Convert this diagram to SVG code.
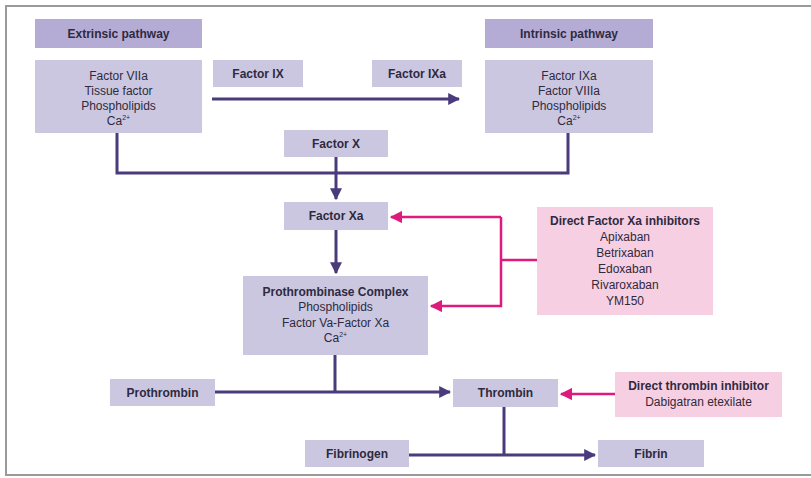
<svg xmlns="http://www.w3.org/2000/svg" width="811" height="478" viewBox="0 0 811 478">
<defs>
<style>
.hdr{fill:#b5acd5}
.box{fill:#cbc7e0}
.pbox{fill:#f7cfe2}
text{font-family:"Liberation Sans",Arial,sans-serif;font-size:12px;fill:#2e2a40;text-anchor:middle}
.b{font-weight:bold}
.sup{font-size:7px}
.ln{fill:none;stroke:#4a3b7c;stroke-width:3}
.pk{fill:none;stroke:#de1a7c;stroke-width:2.5}
</style>
<marker id="ah" viewBox="0 0 10 10" refX="9" refY="5" markerWidth="4" markerHeight="4" orient="auto" markerUnits="strokeWidth"><path d="M0,0 L10,5 L0,10 Z" fill="#4a3b7c"/></marker>
<marker id="ap" viewBox="0 0 10 10" refX="9" refY="5" markerWidth="5" markerHeight="5" orient="auto" markerUnits="strokeWidth"><path d="M0,0 L10,5 L0,10 Z" fill="#de1a7c"/></marker>
</defs>
<rect x="0" y="0" width="811" height="478" fill="#ffffff"/>
<rect x="6" y="6" width="812" height="469" fill="none" stroke="#9a9a9a" stroke-width="2"/>

<g id="connectors">
<path class="ln" d="M212,99 H459" marker-end="url(#ah)"/>
<path class="ln" d="M117,133 V173 H568 V133"/>
<path class="ln" d="M336,157 V199" marker-end="url(#ah)"/>
<path class="ln" d="M336,230 V273" marker-end="url(#ah)"/>
<path class="ln" d="M335,355 V392"/>
<path class="ln" d="M215,392 H450" marker-end="url(#ah)"/>
<path class="ln" d="M504,407 V455"/>
<path class="ln" d="M409,455 H595" marker-end="url(#ah)"/>
<path class="pk" d="M537,260 H501"/>
<path class="pk" d="M501,217 H391" marker-end="url(#ap)"/>
<path class="pk" d="M501,217 V306 H431" marker-end="url(#ap)"/>
<path class="pk" d="M615,394 H561" marker-end="url(#ap)"/>
</g>

<g id="extrinsic-header"><rect class="hdr" x="35" y="19" width="167" height="29"/><text class="b" x="118.5" y="37.5">Extrinsic pathway</text></g>
<g id="extrinsic-box"><rect class="box" x="35" y="60" width="167" height="73"/>
<text x="118.5" y="80">Factor VIIa</text><text x="118.5" y="95">Tissue factor</text><text x="118.5" y="110">Phospholipids</text><text x="118.5" y="125">Ca<tspan class="sup" dy="-5">2+</tspan></text></g>
<g id="factor-ix"><rect class="box" x="213" y="60" width="90" height="27"/><text class="b" x="258" y="78">Factor IX</text></g>
<g id="factor-ixa"><rect class="box" x="372" y="60" width="90" height="27"/><text class="b" x="417" y="78">Factor IXa</text></g>
<g id="intrinsic-header"><rect class="hdr" x="485" y="19" width="168" height="29"/><text class="b" x="569" y="37.5">Intrinsic pathway</text></g>
<g id="intrinsic-box"><rect class="box" x="485" y="60" width="168" height="73"/>
<text x="569" y="80">Factor IXa</text><text x="569" y="95">Factor VIIIa</text><text x="569" y="110">Phospholipids</text><text x="569" y="125">Ca<tspan class="sup" dy="-5">2+</tspan></text></g>
<g id="factor-x"><rect class="box" x="284" y="130" width="104" height="27"/><text class="b" x="336" y="148">Factor X</text></g>
<g id="factor-xa"><rect class="box" x="284" y="202" width="104" height="28"/><text class="b" x="336" y="220">Factor Xa</text></g>
<g id="prothrombinase"><rect class="box" x="243" y="276" width="185" height="79"/>
<text class="b" x="335.5" y="296">Prothrombinase Complex</text><text x="335.5" y="311">Phospholipids</text><text x="335.5" y="327">Factor Va-Factor Xa</text><text x="335.5" y="342">Ca<tspan class="sup" dy="-5">2+</tspan></text></g>
<g id="xa-inhibitors"><rect class="pbox" x="537" y="207" width="176" height="108"/>
<text class="b" x="625" y="225">Direct Factor Xa inhibitors</text><text x="625" y="241">Apixaban</text><text x="625" y="257">Betrixaban</text><text x="625" y="273">Edoxaban</text><text x="625" y="289">Rivaroxaban</text><text x="625" y="305">YM150</text></g>
<g id="prothrombin"><rect class="box" x="110" y="379" width="105" height="27"/><text class="b" x="162.5" y="397">Prothrombin</text></g>
<g id="thrombin"><rect class="box" x="453" y="379" width="105" height="28"/><text class="b" x="505.5" y="397">Thrombin</text></g>
<g id="thrombin-inhibitor"><rect class="pbox" x="615" y="372" width="167" height="45"/>
<text class="b" x="698.5" y="390">Direct thrombin inhibitor</text><text x="698.5" y="406">Dabigatran etexilate</text></g>
<g id="fibrinogen"><rect class="box" x="305" y="440" width="104" height="27"/><text class="b" x="357" y="458">Fibrinogen</text></g>
<g id="fibrin"><rect class="box" x="598" y="440" width="106" height="27"/><text class="b" x="651" y="458">Fibrin</text></g>
</svg>
